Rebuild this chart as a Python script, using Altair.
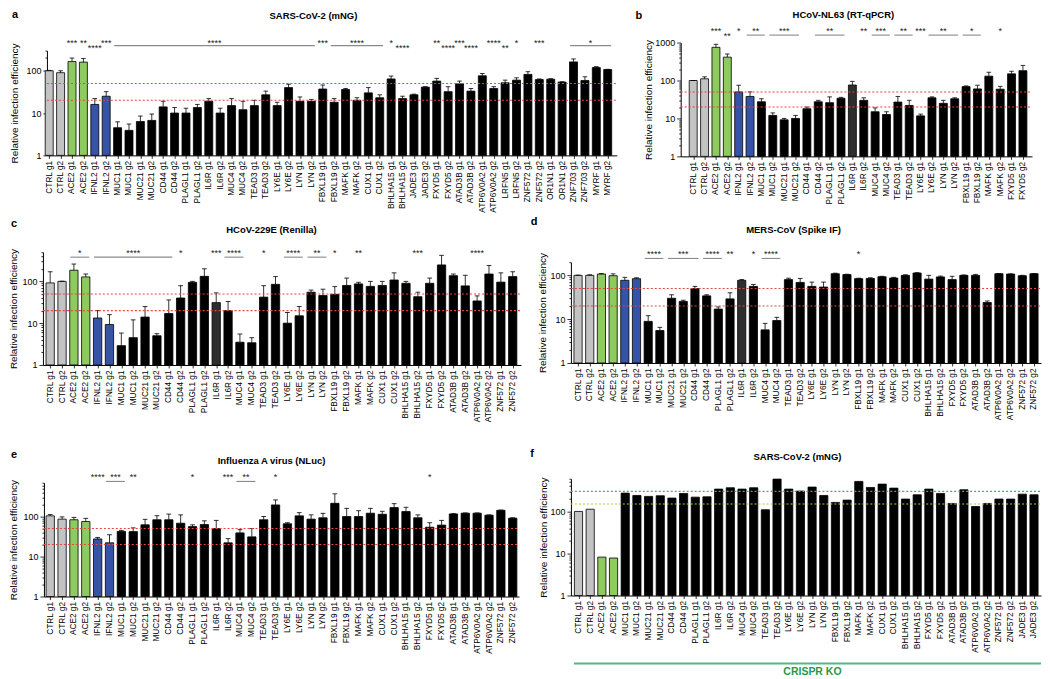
import altair as alt
import pandas as pd

FONT = "Liberation Sans"
GRAY, GREEN, BLUE, BLACK, DARK = "#c3c3c3", "#8ecb5f", "#3653a6", "#000000", "#2e2e2e"
RED = "#e8453c"


def guides(genes):
    return [f"{g} g{k}" for g in genes for k in (1, 2)]


# ---------------- data ----------------
a_genes = ["CTRL", "ACE2", "IFNL2", "MUC1", "MUC21", "CD44", "PLAGL1", "IL6R", "MUC4", "TEAD3",
           "LY6E", "LYN", "FBXL19", "MAFK", "CUX1", "BHLHA15", "JADE3", "FXYD5", "ATAD3B",
           "ATP6V0A2", "LRFN5", "ZNF572", "OR1N1", "ZNF703", "MYRF"]
a_labels = guides(a_genes)
a_vals = [100, 90, 165, 160, 16, 25, 4.5, 3.9, 6.3, 6.7, 14, 10, 10, 13.5, 19, 10, 15, 12, 15, 27,
          15, 40, 19, 19, 37, 18, 36, 20, 30, 23, 64, 22, 27, 41, 57, 32, 49, 33, 76, 38,
          52, 60, 82, 62, 63, 54, 162, 59, 119, 107]
a_errs = [102, 100, 200, 195, 22, 32, 6.2, 5.5, 8.5, 9.5, 19, 13.5, 13, 16, 22, 13, 22, 19, 20, 33,
          18, 48, 24, 21, 46, 22, 38, 23, 40, 27, 75, 25, 28, 42, 66, 42, 57, 38, 86, 42,
          60, 68, 95, 64, 65, 55, 190, 72, 125, 108]
a_stars = [("ACE2 g1", "ACE2 g1", "***", 1), ("ACE2 g2", "ACE2 g2", "**", 1),
           ("IFNL2 g1", "IFNL2 g1", "****", 2), ("IFNL2 g2", "IFNL2 g2", "***", 1),
           ("MUC1 g1", "LYN g2", "****", 1), ("FBXL19 g1", "FBXL19 g1", "***", 1),
           ("FBXL19 g2", "CUX1 g2", "****", 1), ("BHLHA15 g1", "BHLHA15 g1", "*", 1),
           ("BHLHA15 g2", "BHLHA15 g2", "****", 2), ("FXYD5 g1", "FXYD5 g1", "**", 1),
           ("FXYD5 g2", "FXYD5 g2", "****", 2), ("ATAD3B g1", "ATAD3B g1", "***", 1),
           ("ATAD3B g2", "ATAD3B g2", "****", 2), ("ATP6V0A2 g2", "ATP6V0A2 g2", "****", 1),
           ("LRFN5 g1", "LRFN5 g1", "**", 2), ("LRFN5 g2", "LRFN5 g2", "*", 1),
           ("ZNF572 g2", "ZNF572 g2", "***", 1), ("ZNF703 g1", "MYRF g2", "*", 1)]

b_genes = ["CTRL", "ACE2", "IFNL2", "MUC1", "MUC21", "CD44", "PLAGL1", "IL6R", "MUC4", "TEAD3",
           "LY6E", "LYN", "FBXL19", "MAFK", "FXYD5"]
b_labels = guides(b_genes)
b_vals = [100, 111, 750, 413, 50, 38, 27.5, 12, 9.2, 10, 18, 27.5, 26, 34, 76, 30, 15, 12.7, 27, 22,
          11.7, 35, 25, 33, 69, 60, 130, 59, 150, 182]
b_errs = [100, 125, 900, 500, 75, 50, 33, 14, 10, 12, 20, 30, 37, 36, 95, 35, 19, 15, 38, 30,
          13, 37, 30, 35, 72, 75, 165, 70, 175, 250]
b_stars = [("ACE2 g1", "ACE2 g1", "***", 1), ("ACE2 g2", "ACE2 g2", "**", 2),
           ("IFNL2 g1", "IFNL2 g1", "*", 1), ("IFNL2 g2", "MUC1 g1", "**", 1),
           ("MUC1 g2", "MUC21 g2", "***", 1), ("CD44 g2", "PLAGL1 g2", "**", 1),
           ("IL6R g2", "IL6R g2", "**", 1), ("MUC4 g1", "MUC4 g2", "***", 1),
           ("TEAD3 g1", "TEAD3 g2", "**", 1), ("LY6E g1", "LY6E g1", "***", 1),
           ("LY6E g2", "LYN g2", "**", 1), ("FBXL19 g1", "FBXL19 g2", "*", 1),
           ("MAFK g2", "MAFK g2", "*", 1)]

cde_genes = ["CTRL", "ACE2", "IFNL2", "MUC1", "MUC21", "CD44", "PLAGL1", "IL6R", "MUC4", "TEAD3",
             "LY6E", "LYN", "FBXL19", "MAFK", "CUX1", "BHLHA15", "FXYD5", "ATAD3B", "ATP6V0A2",
             "ZNF572"]
c_labels = guides(cde_genes)
c_vals = [92, 100, 185, 128, 13.3, 9.3, 2.9, 4.5, 14, 5, 17, 40, 95, 132, 31, 20, 3.5, 3.4, 42, 85,
          10, 15, 55, 46, 49, 80, 87, 76, 80, 108, 90, 43, 90, 248, 137, 78, 34, 150, 96, 130]
c_errs = [170, 101, 260, 150, 20, 16, 5.8, 12, 25, 5.6, 36, 79, 100, 200, 53, 33, 5.5, 4.5, 79, 130,
          18, 25, 62, 65, 75, 120, 95, 100, 100, 160, 100, 55, 120, 420, 150, 140, 45, 240, 160, 170]
c_stars = [("ACE2 g1", "ACE2 g2", "*", 1), ("IFNL2 g1", "CD44 g1", "****", 1),
           ("CD44 g2", "CD44 g2", "*", 1), ("IL6R g1", "IL6R g1", "***", 1),
           ("IL6R g2", "MUC4 g1", "****", 1), ("TEAD3 g1", "TEAD3 g1", "*", 1),
           ("LY6E g1", "LY6E g2", "****", 1), ("LYN g1", "LYN g2", "**", 1),
           ("FBXL19 g1", "FBXL19 g1", "*", 1), ("MAFK g1", "MAFK g1", "**", 1),
           ("BHLHA15 g2", "BHLHA15 g2", "***", 1), ("ATP6V0A2 g1", "ATP6V0A2 g1", "****", 1)]

d_labels = guides(cde_genes)
d_vals = [100, 100, 107, 98, 77, 84, 8.9, 5.5, 30, 25.4, 50, 34, 17, 29, 77, 56, 5.7, 9.3, 80, 69,
          56, 54, 109, 104, 84, 85, 93, 87, 100, 113, 82, 92, 80, 100, 100, 24, 109, 107, 98, 109]
d_errs = [101, 103, 110, 108, 90, 88, 12, 6.5, 36, 27, 56, 36, 19, 40, 80, 62, 8, 11, 86, 85,
          70, 70, 112, 106, 86, 88, 95, 90, 103, 115, 100, 96, 95, 102, 105, 26, 110, 108, 100, 110]
d_stars = [("MUC1 g1", "MUC1 g2", "****", 1), ("MUC21 g1", "CD44 g1", "***", 1),
           ("CD44 g2", "PLAGL1 g1", "****", 1), ("PLAGL1 g2", "PLAGL1 g2", "**", 1),
           ("IL6R g2", "IL6R g2", "*", 1), ("MUC4 g1", "MUC4 g2", "****", 1),
           ("FBXL19 g1", "FBXL19 g1", "*", 1)]

e_labels = guides(cde_genes)
e_vals = [104, 86, 83, 75, 27.5, 22, 42.5, 42, 62, 83, 83, 68, 56, 63, 50, 22, 39, 31, 83, 195,
          66, 104, 86, 93, 214, 100, 100, 121, 114, 167, 133, 93, 54, 61, 116, 121, 121, 108, 143, 91]
e_errs = [112, 98, 95, 90, 30, 35, 45, 52, 85, 105, 115, 110, 62, 78, 80, 28, 47, 50, 100, 260,
          70, 125, 110, 120, 370, 160, 140, 160, 135, 210, 170, 110, 70, 80, 118, 123, 123, 110, 145, 93]
e_stars = [("IFNL2 g1", "IFNL2 g1", "****", 1), ("IFNL2 g2", "MUC1 g1", "***", 1),
           ("MUC1 g2", "MUC1 g2", "**", 1), ("PLAGL1 g1", "PLAGL1 g1", "*", 1),
           ("IL6R g2", "IL6R g2", "***", 1), ("MUC4 g1", "MUC4 g2", "**", 1),
           ("TEAD3 g2", "TEAD3 g2", "*", 1), ("FXYD5 g1", "FXYD5 g1", "*", 1)]

f_genes = ["CTRL", "ACE2", "MUC1", "MUC21", "CD44", "PLAGL1", "IL6R", "MUC4", "TEAD3", "LY6E",
           "LYN", "FBXL19", "MAFK", "CUX1", "BHLHA15", "FXYD5", "ATAD3B", "ATP6V0A2", "ZNF572",
           "JADE3"]
f_labels = guides(f_genes)
f_vals = [100, 113, 8.2, 7.8, 273, 240, 228, 236, 208, 268, 219, 223, 340, 366, 340, 366, 110, 588,
          340, 305, 380, 240, 164, 186, 518, 372, 447, 359, 197, 249, 340, 268, 155, 328, 131, 155,
          197, 197, 258, 249]

red_refs = [(50, RED), (20, RED)]
green_refs = [(300, "#3fae79"), (150, "#a3cf3a")]
dark_bars = ["IL6R g1"]

titles = ["SARS-CoV-2 (mNG)", "HCoV-NL63 (RT-qPCR)", "HCoV-229E (Renilla)",
          "MERS-CoV (Spike IF)", "Influenza A virus (NLuc)", "SARS-CoV-2 (mNG)"]


def bar_color(label, dark):
    if label in dark:
        return DARK
    return {"CTRL": GRAY, "ACE2": GREEN, "IFNL2": BLUE}.get(label.split(" ")[0], BLACK)


def one():
    return pd.DataFrame({"k": [0]})


def make_panel(labels, values, errs, stars, refs, letter, title, *, ymax, xlo, xhi,
               plot, origin, frame, title_c, letter_c, ytitle_right, star_rows=None,
               line_y=None, extra=None, dark=()):
    ox, oy = origin
    pl, pt, pr, pbm = plot
    dx, dy = pl - ox, pt - oy
    gw, gh = pr - ox, pbm - oy
    n = len(labels)
    df = pd.DataFrame({"i": list(range(n)), "label": labels, "value": values})
    df["err"] = errs if errs is not None else values
    df["fill"] = [bar_color(l, dark) for l in labels]
    xs = alt.Scale(domain=[xlo, xhi], range=[dx, gw], nice=False, zero=False)
    ys = alt.Scale(type="log", domain=[1, ymax], range=[gh, dy], nice=False)
    label_arr = "[" + ",".join("'" + l + "'" for l in labels) + "]"
    yvals = [m * d for d in (1, 10, 100, 1000) for m in range(1, 10) if m * d <= ymax]
    major = "indexof([1,10,100,1000], datum.value) >= 0"
    xaxis = alt.Axis(values=list(range(n)), labelExpr=f"{label_arr}[datum.value]",
                     labelAngle=270, labelAlign="right", labelBaseline="middle",
                     labelFontSize=8.3, labelPadding=2, labelOverlap=False, labelFlush=False,
                     labelBound=False, tickSize=3, tickWidth=0.8, tickColor="black",
                     domainColor="black", domainWidth=1, title=None, grid=False,
                     labelColor="black")
    yaxis = alt.Axis(values=yvals, labelExpr=f"{major} ? format(datum.value, 'd') : ''",
                     tickSize={"condition": {"test": major, "value": 4}, "value": 2},
                     tickWidth=0.8, tickColor="black", domainColor="black", domainWidth=1,
                     labelFontSize=9, labelPadding=2, labelColor="black", labelOverlap=False,
                     labelFlush=False, grid=False, offset=-dx,
                     title="Relative infection efficiency", titleFontSize=10,
                     titleFontWeight="normal", titleColor="black",
                     titleX=ytitle_right - pl)
    base = alt.Chart(df)
    layers = []
    fx0, fy0, fx1, fy1 = frame
    layers.append(alt.Chart(one()).mark_rect(opacity=0).encode(
        x=alt.value(fx0 - ox), x2=alt.value(fx1 - ox), y=alt.value(fy0 - oy),
        y2=alt.value(fy1 - oy)))
    layers.append(base.transform_calculate(x0="datum.i - 0.35", x1="datum.i + 0.35").mark_bar(
        stroke="black", strokeWidth=0.8).encode(
        x=alt.X("x0:Q", scale=xs, axis=xaxis), x2="x1:Q",
        y=alt.Y("value:Q", scale=ys, axis=yaxis), y2=alt.Y2(datum=1),
        fill=alt.Fill("fill:N", scale=None)))
    if errs is not None:
        layers.append(base.mark_rule(color="black", strokeWidth=0.8).encode(
            x=alt.X("i:Q", scale=xs, axis=xaxis), y=alt.Y("value:Q", scale=ys, axis=yaxis),
            y2="err:Q"))
        layers.append(base.transform_calculate(c0="datum.i - 0.2", c1="datum.i + 0.2")
                      .mark_rule(color="black", strokeWidth=0.8).encode(
            x=alt.X("c0:Q", scale=xs, axis=xaxis), x2="c1:Q",
            y=alt.Y("err:Q", scale=ys, axis=yaxis)))
    for v, col in refs:
        layers.append(alt.Chart(one()).mark_rule(
            strokeDash=[2, 2], strokeWidth=1.1, color=col).encode(
            x=alt.value(dx), x2=alt.value(gw), y=alt.Y(datum=v, scale=ys, axis=yaxis)))
    if stars:
        idx = {l: k for k, l in enumerate(labels)}
        fs = 9
        trows, lrows = [], []
        for s, e, txt, row in stars:
            i0, i1 = idx[s], idx[e]
            trows.append({"xm": (i0 + i1) / 2, "t": txt,
                          "py": star_rows[row - 1] + 0.55 * fs - oy})
            if i1 > i0:
                lrows.append({"xs": i0 - 0.3, "xe": i1 + 0.3, "py": line_y - oy})
        layers.append(alt.Chart(pd.DataFrame(trows)).mark_text(
            fontSize=fs, baseline="alphabetic", align="center", color="#222", font=FONT).encode(
            x=alt.X("xm:Q", scale=xs, axis=xaxis), y=alt.Y("py:Q", scale=None), text="t:N"))
        if lrows:
            layers.append(alt.Chart(pd.DataFrame(lrows)).mark_rule(
                color="#8a8a8a", strokeWidth=1.1).encode(
                x=alt.X("xs:Q", scale=xs, axis=xaxis), x2="xe:Q",
                y=alt.Y("py:Q", scale=None)))
    layers.append(alt.Chart(pd.DataFrame({"t": [title]})).mark_text(
        fontSize=9.5, fontWeight="bold", align="center", baseline="middle", font=FONT,
        color="black").encode(x=alt.value(title_c[0] - ox), y=alt.value(title_c[1] - oy),
                              text="t:N"))
    layers.append(alt.Chart(pd.DataFrame({"t": [letter]})).mark_text(
        fontSize=11, fontWeight="bold", align="center", baseline="middle", font=FONT,
        color="black").encode(x=alt.value(letter_c[0] - ox), y=alt.value(letter_c[1] - oy),
                              text="t:N"))
    if extra is not None:
        layers.extend(extra(ox, oy))
    return alt.layer(*layers).properties(width=gw, height=gh)


pa = make_panel(a_labels, a_vals, a_errs, a_stars, red_refs, "a", titles[0],
                ymax=300, xlo=-0.2, xhi=49.8, plot=(45, 50, 616, 155), origin=(41, 42),
                frame=(8, 8, 625, 216), title_c=(312, 15), letter_c=(13, 14), ytitle_right=18,
                star_rows=(40.7, 45.7), line_y=45)
pb = make_panel(b_labels, b_vals, b_errs, b_stars, red_refs, "b", titles[1],
                ymax=1000, xlo=-1.1, xhi=29.8, plot=(680, 42, 1032, 156), origin=(680, 42),
                frame=(625, 8, 1042, 216), title_c=(843, 14), letter_c=(638, 15),
                ytitle_right=653, star_rows=(28.5, 33.5), line_y=34.5, dark=dark_bars)
pc = make_panel(c_labels, c_vals, c_errs, c_stars, red_refs, "c", titles[2],
                ymax=500, xlo=-0.61, xhi=39.7, plot=(41, 252, 520, 365), origin=(41, 252),
                frame=(8, 216, 527, 442), title_c=(270, 230), letter_c=(12, 224),
                ytitle_right=17, star_rows=(251, 251), line_y=257, dark=dark_bars)
pd_ = make_panel(d_labels, d_vals, d_errs, d_stars, red_refs, "d", titles[3],
                 ymax=200, xlo=-0.61, xhi=39.6, plot=(570, 262, 1041, 363), origin=(570, 252),
                 frame=(527, 216, 1042, 442), title_c=(793, 230), letter_c=(533, 222),
                 ytitle_right=547, star_rows=(251.7, 251.7), line_y=258.3, dark=dark_bars)
pe = make_panel(e_labels, e_vals, e_errs, e_stars, red_refs, "e", titles[4],
                ymax=700, xlo=-0.53, xhi=39.53, plot=(42, 483, 518, 597), origin=(41, 479),
                frame=(8, 442, 525, 679), title_c=(270, 461), letter_c=(12, 455),
                ytitle_right=17, star_rows=(475, 475), line_y=481.7)


def crispr(ox, oy):
    return [
        alt.Chart(one()).mark_rule(color="#55b687", strokeWidth=2).encode(
            x=alt.value(573 - ox), x2=alt.value(1041 - ox), y=alt.value(664 - oy)),
        alt.Chart(pd.DataFrame({"t": ["CRISPR KO"]})).mark_text(
            fontSize=10.5, fontWeight="bold", color="#1f9a48", align="center",
            baseline="middle", font=FONT).encode(
            x=alt.value(812 - ox), y=alt.value(673 - oy), text="t:N"),
    ]


pf = make_panel(f_labels, f_vals, None, None, green_refs, "f", titles[5],
                ymax=600, xlo=-0.65, xhi=39.6, plot=(570, 479, 1041, 596), origin=(570, 479),
                frame=(525, 442, 1042, 679), title_c=(797, 457), letter_c=(531, 454),
                ytitle_right=548, extra=crispr)

chart = alt.vconcat(
    alt.hconcat(pa, pb, spacing=0),
    alt.hconcat(pc, pd_, spacing=0),
    alt.hconcat(pe, pf, spacing=0),
    spacing=0,
).properties(padding=0).configure_view(strokeWidth=0).configure_axis(
    labelFont=FONT, titleFont=FONT).configure_text(font=FONT)

chart.save("out.html", embed_options={"renderer": "svg", "actions": False})
